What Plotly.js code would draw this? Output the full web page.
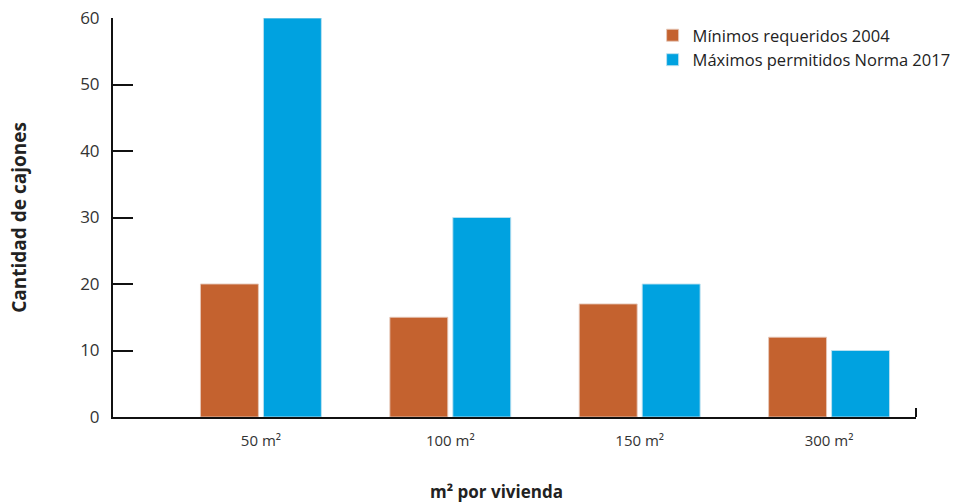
<!DOCTYPE html>
<html>
<head>
<meta charset="utf-8">
<script src="https://cdn.plot.ly/plotly-3.0.1.min.js"></script>
<style>
  html, body { margin: 0; padding: 0; background: #ffffff; }
  #chart { width: 970px; height: 503px; }
</style>
</head>
<body>
<div id="chart"></div>
<script>
// Parking spaces per dwelling size
const categories = ['50 m²', '100 m²', '150 m²', '300 m²'];
const minimos2004 = [20, 15, 17, 12];
const maximos2017 = [60, 30, 20, 10];
const seriesNames = ['Mínimos requeridos 2004', 'Máximos permitidos Norma 2017'];
const yTicks = [0, 10, 20, 30, 40, 50, 60];

const FONT = '"Open Sans", "Noto Sans", sans-serif';

const traces = [
  {
    type: 'bar',
    name: seriesNames[0],
    x: categories,
    y: minimos2004,
    marker: { color: '#C4622F', line: { color: 'rgba(230,200,185,0.9)', width: 1 } },
    hoverinfo: 'x+y'
  },
  {
    type: 'bar',
    name: seriesNames[1],
    x: categories,
    y: maximos2017,
    marker: { color: '#00A2E0', line: { color: 'rgba(190,225,240,0.9)', width: 1 } },
    hoverinfo: 'x+y'
  }
];

const layout = {
  width: 970,
  height: 503,
  margin: { l: 113, r: 54, t: 18, b: 86, autoexpand: false },
  paper_bgcolor: '#ffffff',
  plot_bgcolor: '#ffffff',
  font: { family: FONT, color: '#222222' },
  barmode: 'group',
  bargap: 0.335,
  bargroupgap: 0.08,
  showlegend: true,
  legend: {
    x: 0.672, y: 1.0, xanchor: 'left', yanchor: 'top',
    font: { family: FONT, size: 16.5, color: '#222222' },
    bgcolor: 'rgba(0,0,0,0)',
    itemwidth: 30,
    tracegroupgap: 0
  },
  xaxis: {
    type: 'category',
    range: [-0.781, 3.459],
    showline: true,
    linecolor: '#111111',
    linewidth: 2,
    ticks: '',
    showgrid: false,
    zeroline: false,
    tickfont: { family: FONT, size: 15, color: '#333333' },
    ticklabelstandoff: 9,
    fixedrange: true
  },
  yaxis: {
    range: [0, 60],
    tickvals: yTicks,
    ticktext: yTicks.map(String),
    showline: true,
    linecolor: '#111111',
    linewidth: 2,
    ticks: 'inside',
    ticklen: 20,
    tickwidth: 2,
    tickcolor: '#111111',
    showgrid: false,
    zeroline: false,
    tickfont: { family: FONT, size: 17, color: '#333333' },
    ticklabelstandoff: 8,
    title: {
      text: '<b>Cantidad de cajones</b>',
      font: { family: FONT, size: 19, color: '#222222' },
      standoff: 48
    },
    fixedrange: true
  },
  annotations: [
    {
      text: '<b>m² por vivienda</b>',
      xref: 'paper', yref: 'paper',
      x: 0.477, y: 0, yshift: -74,
      xanchor: 'center', yanchor: 'middle',
      showarrow: false,
      font: { family: FONT, size: 17, color: '#222222' }
    }
  ],
  shapes: [
    {
      type: 'line',
      xref: 'paper', yref: 'paper',
      x0: 1, x1: 1,
      ysizemode: 'pixel', yanchor: 0,
      y0: 0, y1: 9,
      line: { color: '#111111', width: 2 }
    }
  ]
};

Plotly.newPlot('chart', traces, layout, { displayModeBar: false, staticPlot: true });
</script>
</body>
</html>
